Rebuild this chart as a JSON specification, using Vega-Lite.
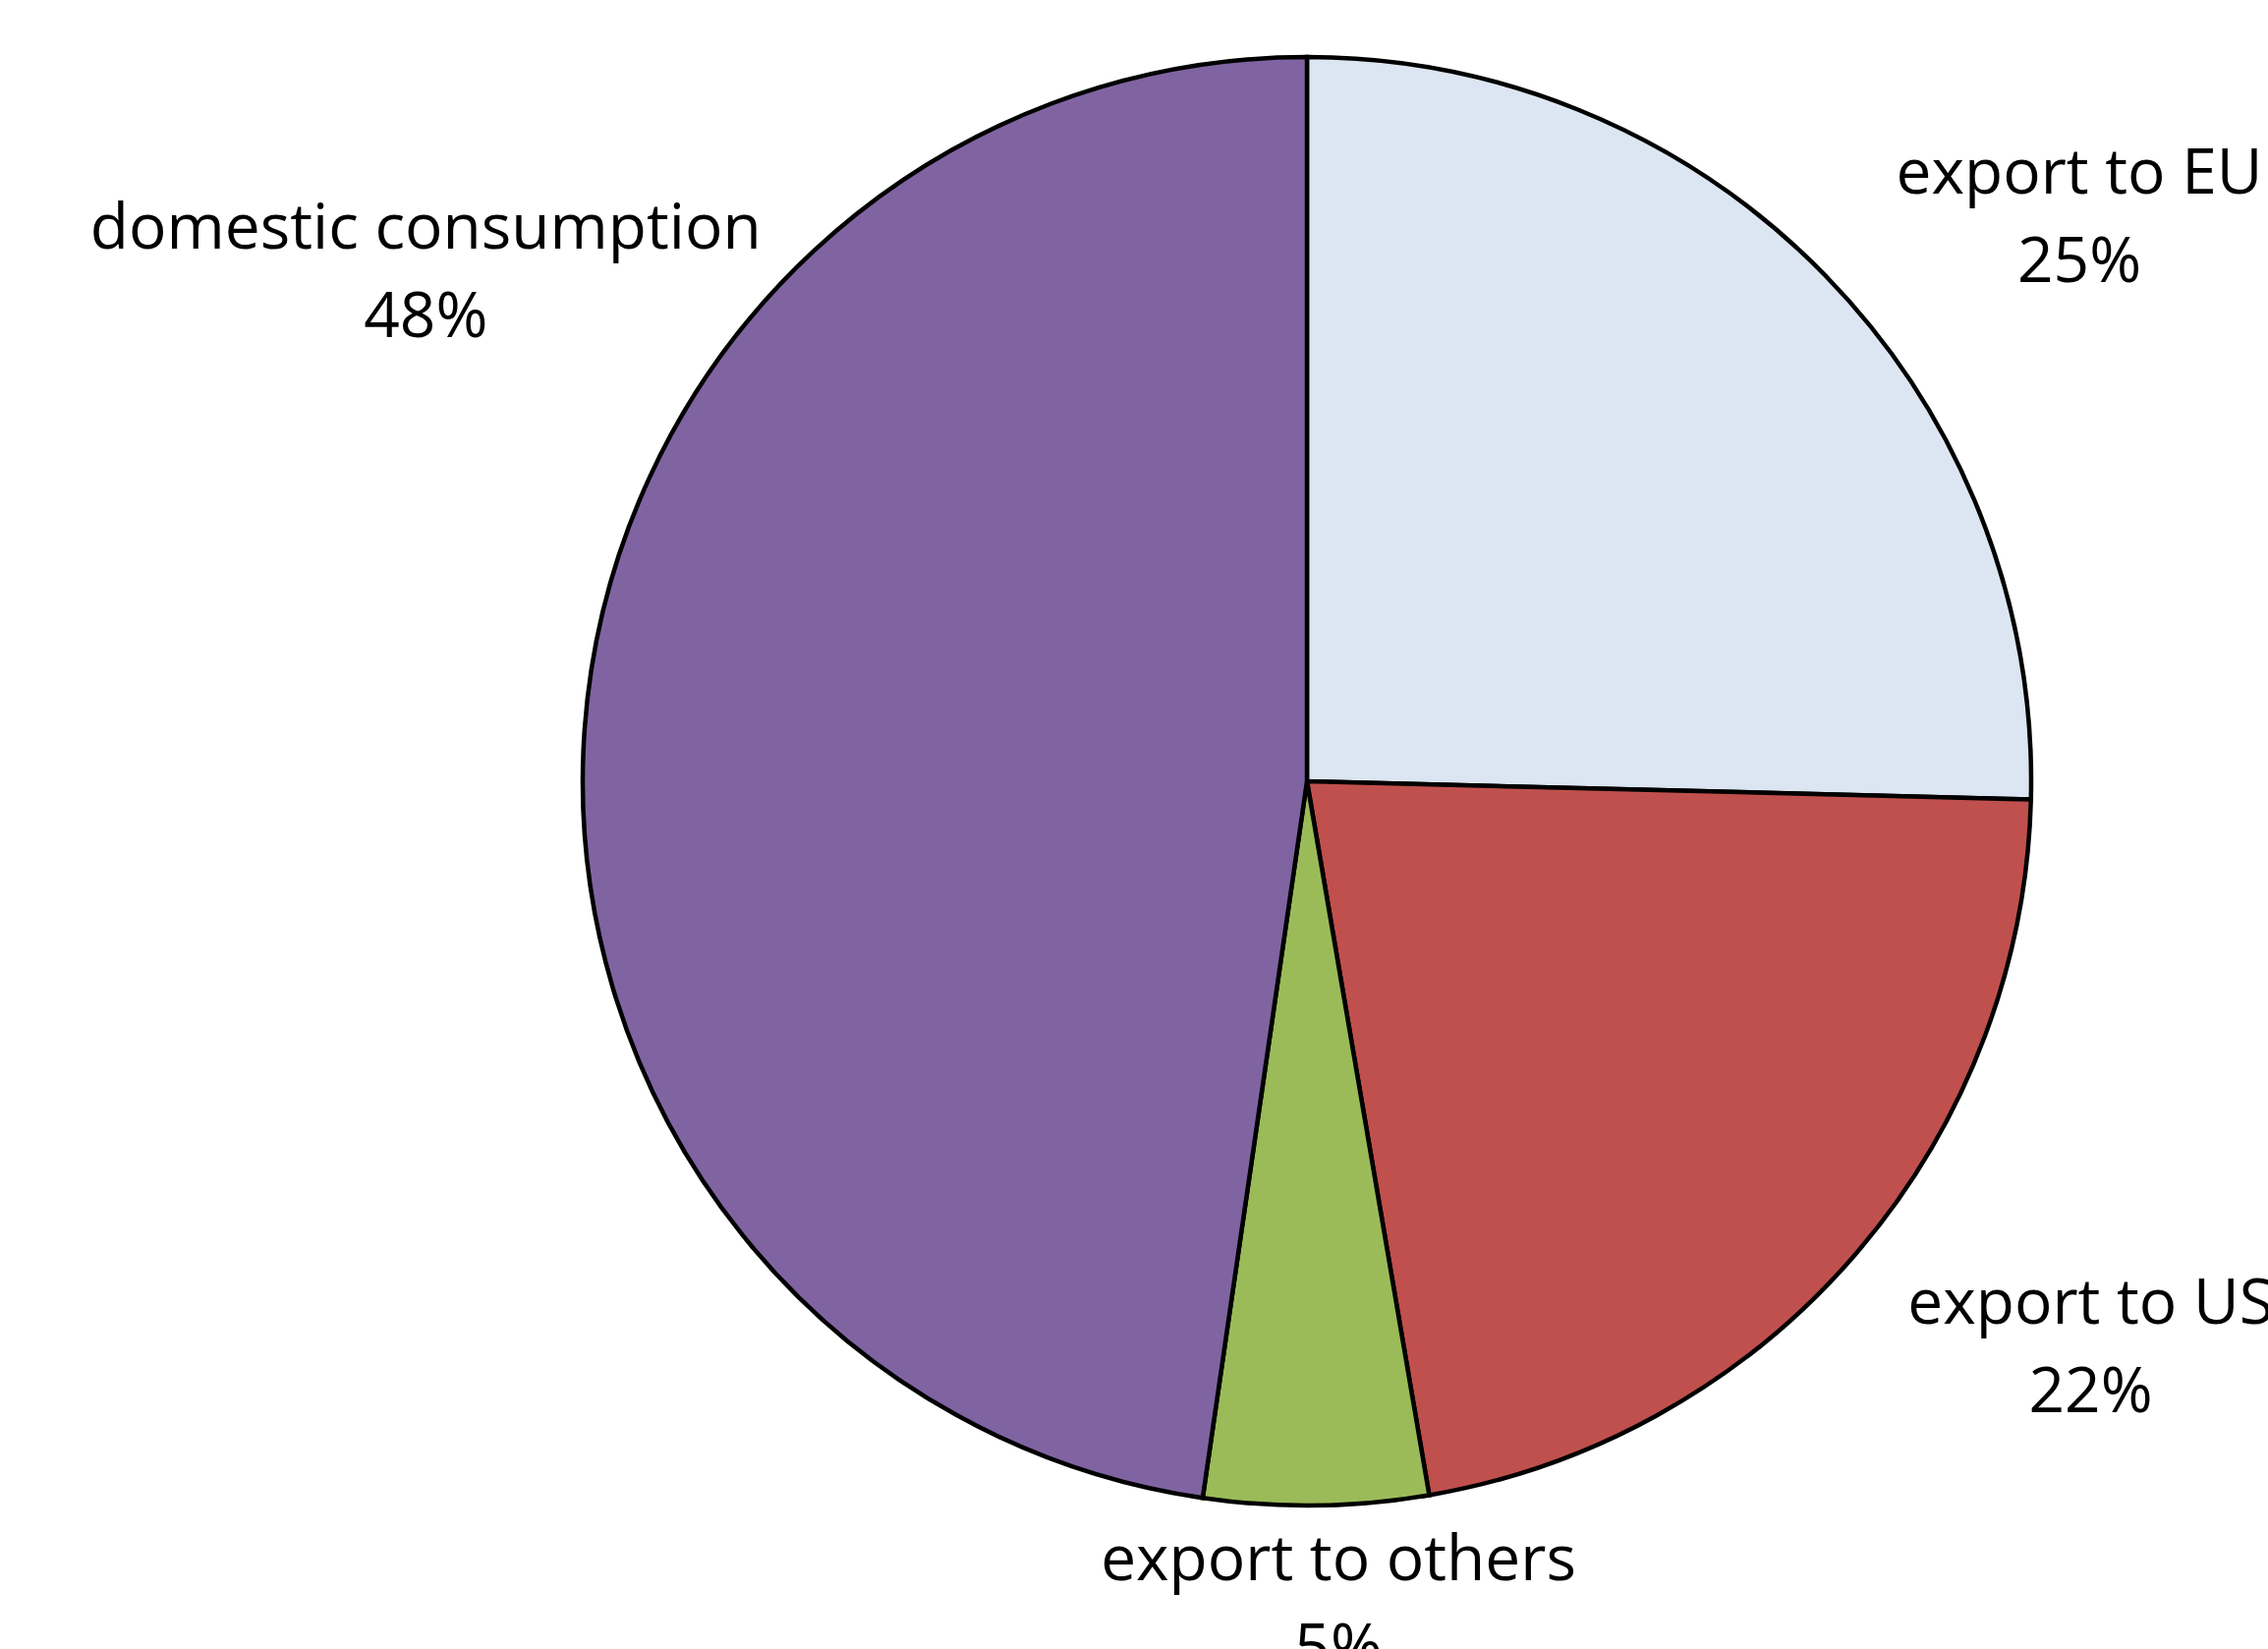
{
  "$schema": "https://vega.github.io/schema/vega-lite/v6.json",
  "width": 1956,
  "height": 1590,
  "autosize": "none",
  "padding": {"left": 352, "right": 0, "top": 0, "bottom": 88},
  "background": "white",
  "view": {"stroke": null},
  "data": {
    "values": [
      {"cat": "export to EU", "share": 25.4, "rank": 1},
      {"cat": "export to US", "share": 21.9, "rank": 2},
      {"cat": "export to others", "share": 5.0, "rank": 3},
      {"cat": "domestic consumption", "share": 47.7, "rank": 4}
    ]
  },
  "transform": [
    {"calculate": "datum.cat + '\\n' + format(datum.share / 100, '.0%')", "as": "label"}
  ],
  "encoding": {
    "theta": {"field": "share", "type": "quantitative", "stack": true},
    "order": {"field": "rank", "type": "quantitative"}
  },
  "layer": [
    {
      "mark": {"type": "arc", "outerRadius": 737, "stroke": "black", "strokeWidth": 4.5},
      "encoding": {
        "color": {
          "field": "cat",
          "type": "nominal",
          "scale": {
            "domain": ["export to EU", "export to US", "export to others", "domestic consumption"],
            "range": ["#DCE6F2", "#C0504D", "#9BBB59", "#8064A2"]
          },
          "legend": null
        }
      }
    },
    {
      "mark": {
        "type": "text",
        "radius": 880,
        "font": "Open Sans",
        "fontSize": 64,
        "lineHeight": 90,
        "baseline": "alphabetic",
        "align": "center",
        "lineBreak": "\n",
        "color": "black",
        "dx": {"expr": "datum.cat === 'export to EU' ? 156 : datum.cat === 'export to US' ? 132 : datum.cat === 'export to others' ? 21 : -19"},
        "dy": {"expr": "datum.cat === 'export to EU' ? 16 : datum.cat === 'export to US' ? -24 : datum.cat === 'export to others' ? -67 : -478"}
      },
      "encoding": {
        "text": {"field": "label", "type": "nominal"}
      }
    }
  ]
}
